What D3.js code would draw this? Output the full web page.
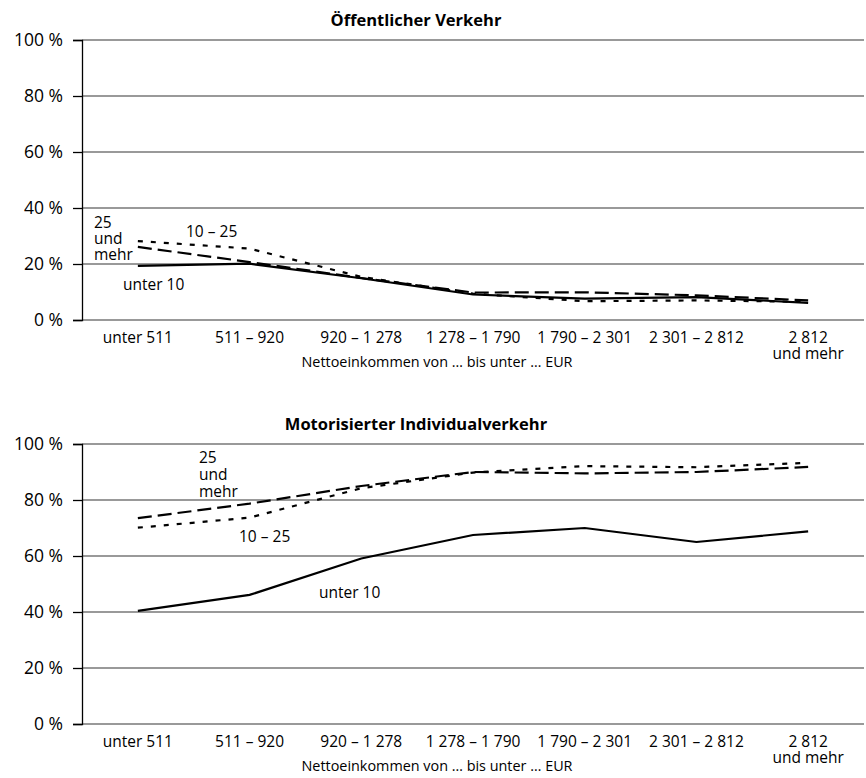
<!DOCTYPE html>
<html>
<head>
<meta charset="utf-8">
<script src="https://cdn.jsdelivr.net/npm/d3@7"></script>
<style>
  body { margin: 0; background: #fff; }
  svg text { font-family: "Open Sans", "Noto Sans", sans-serif; fill: #000; }
</style>
</head>
<body>
<script>
// categories (income classes)
var categories = ["unter 511", "511 – 920", "920 – 1 278", "1 278 – 1 790", "1 790 – 2 301", "2 301 – 2 812", "2 812|und mehr"];
var yTicks = [0, 20, 40, 60, 80, 100];
var xTitle = "Nettoeinkommen von … bis unter … EUR";

// Öffentlicher Verkehr
var oevUnter10 = [19.3, 20.1, 14.9, 9.1, 7.6, 8.2, 6.1];
var oev10bis25 = [28.2, 25.5, 15.4, 9.4, 6.7, 7.0, 6.5];
var oev25mehr  = [26.1, 20.7, 15.0, 9.8, 9.9, 8.8, 7.0];

// Motorisierter Individualverkehr
var mivUnter10 = [40.4, 46.1, 59.1, 67.5, 70.0, 65.0, 68.8];
var miv10bis25 = [70.1, 73.7, 84.2, 89.8, 92.1, 91.7, 93.3];
var miv25mehr  = [73.5, 78.7, 85.0, 90.0, 89.5, 90.0, 91.8];

var W = 866, H = 778;
var svg = d3.select("body").append("svg").attr("width", W).attr("height", H);

var styles = {
  unter10: { dash: null },
  b10bis25: { dash: "5,8" },
  mehr25: { dash: "14,6" }
};

function panel(opts) {
  var g = svg.append("g");
  var x = d3.scaleBand().domain(categories).range([82, 864]).padding(0);
  var y = d3.scaleLinear().domain([0, 100]).range([opts.top + 280, opts.top]);

  // gridlines
  g.selectAll("line.grid").data(yTicks).enter().append("line")
    .attr("x1", 82).attr("x2", 864)
    .attr("y1", function (d) { return y(d); }).attr("y2", function (d) { return y(d); })
    .attr("stroke", "#777").attr("stroke-width", 1.5);

  // y axis
  var ax = g.append("g").attr("transform", "translate(82,0)")
    .call(d3.axisLeft(y).tickValues(yTicks).tickSize(9).tickPadding(10)
      .tickFormat(function (d) { return d + " %"; }));
  ax.select(".domain").attr("stroke", "#000").attr("stroke-width", 1.3);
  ax.selectAll(".tick line").attr("stroke", "#000").attr("stroke-width", 1.3);
  ax.selectAll(".tick text").style("font-size", "17.5px").attr("font-family", null);

  // title
  g.append("text").attr("x", opts.titleX).attr("y", opts.top - 14)
    .attr("text-anchor", "middle").style("font-size", "16.5px").style("font-weight", "bold")
    .text(opts.title);

  // x labels
  g.selectAll("text.xl").data(categories).enter().append("text")
    .attr("class", "xl")
    .attr("text-anchor", "middle")
    .attr("transform", function (d) { return "translate(" + (x(d) + x.bandwidth() / 2) + "," + (opts.top + 302.5) + ")"; })
    .style("font-size", "15.5px")
    .each(function (d) {
      var parts = d.split("|");
      var t = d3.select(this);
      parts.forEach(function (p, i) {
        t.append("tspan").attr("x", 0).attr("dy", i === 0 ? 0 : 16).text(p);
      });
    });

  g.append("text").attr("x", 437).attr("y", opts.top + 327)
    .attr("text-anchor", "middle").style("font-size", "14.4px").text(xTitle);

  var line = d3.line()
    .x(function (d, i) { return x(categories[i]) + x.bandwidth() / 2; })
    .y(function (d) { return y(d); });

  opts.series.forEach(function (s) {
    g.append("path").datum(s.values)
      .attr("d", line)
      .attr("fill", "none").attr("stroke", "#000").attr("stroke-width", 2.2)
      .attr("stroke-dasharray", s.dash);
  });

  opts.labels.forEach(function (l) {
    var t = g.append("text").attr("x", l.x).attr("y", l.y).style("font-size", "15.5px");
    l.text.split("|").forEach(function (p, i) {
      t.append("tspan").attr("x", l.x).attr("dy", i === 0 ? 0 : opts.lineGap).text(p);
    });
  });
}

panel({
  top: 40,
  title: "Öffentlicher Verkehr",
  titleX: 416,
  lineGap: 16,
  series: [
    { values: oevUnter10, dash: styles.unter10.dash },
    { values: oev25mehr, dash: styles.mehr25.dash },
    { values: oev10bis25, dash: styles.b10bis25.dash }
  ],
  labels: [
    { x: 94, y: 228, text: "25|und|mehr" },
    { x: 186, y: 237, text: "10 – 25" },
    { x: 123, y: 290, text: "unter 10" }
  ]
});

panel({
  top: 444,
  title: "Motorisierter Individualverkehr",
  titleX: 416,
  lineGap: 17,
  series: [
    { values: mivUnter10, dash: styles.unter10.dash },
    { values: miv25mehr, dash: styles.mehr25.dash },
    { values: miv10bis25, dash: styles.b10bis25.dash }
  ],
  labels: [
    { x: 199, y: 463, text: "25|und|mehr" },
    { x: 239, y: 542, text: "10 – 25" },
    { x: 319, y: 598, text: "unter 10" }
  ]
});
</script>
</body>
</html>
